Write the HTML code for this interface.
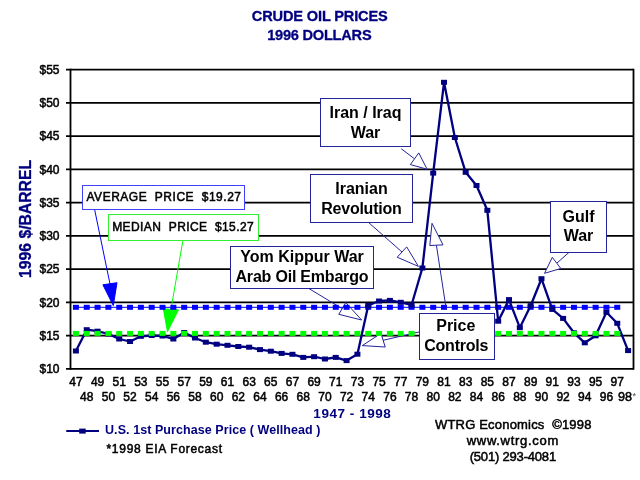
<!DOCTYPE html>
<html><head><meta charset="utf-8"><title>Crude Oil Prices 1947-1998</title>
<style>
html,body{margin:0;padding:0;background:#fff;}
body{width:640px;height:480px;position:relative;overflow:hidden;font-family:"Liberation Sans", Arial, sans-serif;}
svg text{font-family:"Liberation Sans", Arial, sans-serif;}
</style></head><body>
<svg width="640" height="480" viewBox="0 0 640 480" style="position:absolute;left:0;top:0">
<rect x="0" y="0" width="640" height="480" fill="#fff"/>
<line x1="66.00" y1="69.70" x2="633.50" y2="69.70" stroke="#000" stroke-width="1.8"/>
<line x1="66.00" y1="102.94" x2="633.50" y2="102.94" stroke="#000" stroke-width="1.8"/>
<line x1="66.00" y1="136.19" x2="633.50" y2="136.19" stroke="#000" stroke-width="1.8"/>
<line x1="66.00" y1="169.43" x2="633.50" y2="169.43" stroke="#000" stroke-width="1.8"/>
<line x1="66.00" y1="202.68" x2="633.50" y2="202.68" stroke="#000" stroke-width="1.8"/>
<line x1="66.00" y1="235.92" x2="633.50" y2="235.92" stroke="#000" stroke-width="1.8"/>
<line x1="66.00" y1="269.17" x2="633.50" y2="269.17" stroke="#000" stroke-width="1.8"/>
<line x1="66.00" y1="302.41" x2="633.50" y2="302.41" stroke="#000" stroke-width="1.8"/>
<line x1="66.00" y1="335.66" x2="633.50" y2="335.66" stroke="#000" stroke-width="1.8"/>
<line x1="66.00" y1="368.90" x2="633.50" y2="368.90" stroke="#000" stroke-width="1.8"/>
<line x1="70.50" y1="68.80" x2="70.50" y2="369.80" stroke="#000" stroke-width="1.8"/>
<line x1="633.50" y1="68.80" x2="633.50" y2="369.80" stroke="#000" stroke-width="1.8"/>
<text x="59.5" y="73.90" text-anchor="end" font-size="12" fill="#000" stroke="#000" stroke-width="0.5" paint-order="stroke">$55</text>
<text x="59.5" y="107.14" text-anchor="end" font-size="12" fill="#000" stroke="#000" stroke-width="0.5" paint-order="stroke">$50</text>
<text x="59.5" y="140.39" text-anchor="end" font-size="12" fill="#000" stroke="#000" stroke-width="0.5" paint-order="stroke">$45</text>
<text x="59.5" y="173.63" text-anchor="end" font-size="12" fill="#000" stroke="#000" stroke-width="0.5" paint-order="stroke">$40</text>
<text x="59.5" y="206.88" text-anchor="end" font-size="12" fill="#000" stroke="#000" stroke-width="0.5" paint-order="stroke">$35</text>
<text x="59.5" y="240.12" text-anchor="end" font-size="12" fill="#000" stroke="#000" stroke-width="0.5" paint-order="stroke">$30</text>
<text x="59.5" y="273.37" text-anchor="end" font-size="12" fill="#000" stroke="#000" stroke-width="0.5" paint-order="stroke">$25</text>
<text x="59.5" y="306.61" text-anchor="end" font-size="12" fill="#000" stroke="#000" stroke-width="0.5" paint-order="stroke">$20</text>
<text x="59.5" y="339.86" text-anchor="end" font-size="12" fill="#000" stroke="#000" stroke-width="0.5" paint-order="stroke">$15</text>
<text x="59.5" y="373.10" text-anchor="end" font-size="12" fill="#000" stroke="#000" stroke-width="0.5" paint-order="stroke">$10</text>
<text x="75.91" y="385.5" text-anchor="middle" font-size="12" fill="#000" stroke="#000" stroke-width="0.5" paint-order="stroke">47</text>
<text x="86.74" y="401.2" text-anchor="middle" font-size="12" fill="#000" stroke="#000" stroke-width="0.5" paint-order="stroke">48</text>
<text x="97.57" y="385.5" text-anchor="middle" font-size="12" fill="#000" stroke="#000" stroke-width="0.5" paint-order="stroke">49</text>
<text x="108.39" y="401.2" text-anchor="middle" font-size="12" fill="#000" stroke="#000" stroke-width="0.5" paint-order="stroke">50</text>
<text x="119.22" y="385.5" text-anchor="middle" font-size="12" fill="#000" stroke="#000" stroke-width="0.5" paint-order="stroke">51</text>
<text x="130.05" y="401.2" text-anchor="middle" font-size="12" fill="#000" stroke="#000" stroke-width="0.5" paint-order="stroke">52</text>
<text x="140.88" y="385.5" text-anchor="middle" font-size="12" fill="#000" stroke="#000" stroke-width="0.5" paint-order="stroke">53</text>
<text x="151.70" y="401.2" text-anchor="middle" font-size="12" fill="#000" stroke="#000" stroke-width="0.5" paint-order="stroke">54</text>
<text x="162.53" y="385.5" text-anchor="middle" font-size="12" fill="#000" stroke="#000" stroke-width="0.5" paint-order="stroke">55</text>
<text x="173.36" y="401.2" text-anchor="middle" font-size="12" fill="#000" stroke="#000" stroke-width="0.5" paint-order="stroke">56</text>
<text x="184.18" y="385.5" text-anchor="middle" font-size="12" fill="#000" stroke="#000" stroke-width="0.5" paint-order="stroke">57</text>
<text x="195.01" y="401.2" text-anchor="middle" font-size="12" fill="#000" stroke="#000" stroke-width="0.5" paint-order="stroke">58</text>
<text x="205.84" y="385.5" text-anchor="middle" font-size="12" fill="#000" stroke="#000" stroke-width="0.5" paint-order="stroke">59</text>
<text x="216.66" y="401.2" text-anchor="middle" font-size="12" fill="#000" stroke="#000" stroke-width="0.5" paint-order="stroke">60</text>
<text x="227.49" y="385.5" text-anchor="middle" font-size="12" fill="#000" stroke="#000" stroke-width="0.5" paint-order="stroke">61</text>
<text x="238.32" y="401.2" text-anchor="middle" font-size="12" fill="#000" stroke="#000" stroke-width="0.5" paint-order="stroke">62</text>
<text x="249.14" y="385.5" text-anchor="middle" font-size="12" fill="#000" stroke="#000" stroke-width="0.5" paint-order="stroke">63</text>
<text x="259.97" y="401.2" text-anchor="middle" font-size="12" fill="#000" stroke="#000" stroke-width="0.5" paint-order="stroke">64</text>
<text x="270.80" y="385.5" text-anchor="middle" font-size="12" fill="#000" stroke="#000" stroke-width="0.5" paint-order="stroke">65</text>
<text x="281.62" y="401.2" text-anchor="middle" font-size="12" fill="#000" stroke="#000" stroke-width="0.5" paint-order="stroke">66</text>
<text x="292.45" y="385.5" text-anchor="middle" font-size="12" fill="#000" stroke="#000" stroke-width="0.5" paint-order="stroke">67</text>
<text x="303.28" y="401.2" text-anchor="middle" font-size="12" fill="#000" stroke="#000" stroke-width="0.5" paint-order="stroke">68</text>
<text x="314.11" y="385.5" text-anchor="middle" font-size="12" fill="#000" stroke="#000" stroke-width="0.5" paint-order="stroke">69</text>
<text x="324.93" y="401.2" text-anchor="middle" font-size="12" fill="#000" stroke="#000" stroke-width="0.5" paint-order="stroke">70</text>
<text x="335.76" y="385.5" text-anchor="middle" font-size="12" fill="#000" stroke="#000" stroke-width="0.5" paint-order="stroke">71</text>
<text x="346.59" y="401.2" text-anchor="middle" font-size="12" fill="#000" stroke="#000" stroke-width="0.5" paint-order="stroke">72</text>
<text x="357.41" y="385.5" text-anchor="middle" font-size="12" fill="#000" stroke="#000" stroke-width="0.5" paint-order="stroke">73</text>
<text x="368.24" y="401.2" text-anchor="middle" font-size="12" fill="#000" stroke="#000" stroke-width="0.5" paint-order="stroke">74</text>
<text x="379.07" y="385.5" text-anchor="middle" font-size="12" fill="#000" stroke="#000" stroke-width="0.5" paint-order="stroke">75</text>
<text x="389.89" y="401.2" text-anchor="middle" font-size="12" fill="#000" stroke="#000" stroke-width="0.5" paint-order="stroke">76</text>
<text x="400.72" y="385.5" text-anchor="middle" font-size="12" fill="#000" stroke="#000" stroke-width="0.5" paint-order="stroke">77</text>
<text x="411.55" y="401.2" text-anchor="middle" font-size="12" fill="#000" stroke="#000" stroke-width="0.5" paint-order="stroke">78</text>
<text x="422.38" y="385.5" text-anchor="middle" font-size="12" fill="#000" stroke="#000" stroke-width="0.5" paint-order="stroke">79</text>
<text x="433.20" y="401.2" text-anchor="middle" font-size="12" fill="#000" stroke="#000" stroke-width="0.5" paint-order="stroke">80</text>
<text x="444.03" y="385.5" text-anchor="middle" font-size="12" fill="#000" stroke="#000" stroke-width="0.5" paint-order="stroke">81</text>
<text x="454.86" y="401.2" text-anchor="middle" font-size="12" fill="#000" stroke="#000" stroke-width="0.5" paint-order="stroke">82</text>
<text x="465.68" y="385.5" text-anchor="middle" font-size="12" fill="#000" stroke="#000" stroke-width="0.5" paint-order="stroke">83</text>
<text x="476.51" y="401.2" text-anchor="middle" font-size="12" fill="#000" stroke="#000" stroke-width="0.5" paint-order="stroke">84</text>
<text x="487.34" y="385.5" text-anchor="middle" font-size="12" fill="#000" stroke="#000" stroke-width="0.5" paint-order="stroke">85</text>
<text x="498.16" y="401.2" text-anchor="middle" font-size="12" fill="#000" stroke="#000" stroke-width="0.5" paint-order="stroke">86</text>
<text x="508.99" y="385.5" text-anchor="middle" font-size="12" fill="#000" stroke="#000" stroke-width="0.5" paint-order="stroke">87</text>
<text x="519.82" y="401.2" text-anchor="middle" font-size="12" fill="#000" stroke="#000" stroke-width="0.5" paint-order="stroke">88</text>
<text x="530.64" y="385.5" text-anchor="middle" font-size="12" fill="#000" stroke="#000" stroke-width="0.5" paint-order="stroke">89</text>
<text x="541.47" y="401.2" text-anchor="middle" font-size="12" fill="#000" stroke="#000" stroke-width="0.5" paint-order="stroke">90</text>
<text x="552.30" y="385.5" text-anchor="middle" font-size="12" fill="#000" stroke="#000" stroke-width="0.5" paint-order="stroke">91</text>
<text x="563.12" y="401.2" text-anchor="middle" font-size="12" fill="#000" stroke="#000" stroke-width="0.5" paint-order="stroke">92</text>
<text x="573.95" y="385.5" text-anchor="middle" font-size="12" fill="#000" stroke="#000" stroke-width="0.5" paint-order="stroke">93</text>
<text x="584.78" y="401.2" text-anchor="middle" font-size="12" fill="#000" stroke="#000" stroke-width="0.5" paint-order="stroke">94</text>
<text x="595.61" y="385.5" text-anchor="middle" font-size="12" fill="#000" stroke="#000" stroke-width="0.5" paint-order="stroke">95</text>
<text x="606.43" y="401.2" text-anchor="middle" font-size="12" fill="#000" stroke="#000" stroke-width="0.5" paint-order="stroke">96</text>
<text x="617.26" y="385.5" text-anchor="middle" font-size="12" fill="#000" stroke="#000" stroke-width="0.5" paint-order="stroke">97</text>
<text x="617.9" y="401.2" font-size="12.6" fill="#000" stroke="#000" stroke-width="0.5" paint-order="stroke">98</text>
<text x="632.4" y="398.59999999999997" font-size="9" fill="#444">*</text>
<polyline points="401.25,148.75 414.5,158.8" fill="none" stroke="#24249a" stroke-width="1"/><polygon points="418.75,152.9 410.4,164.6 427.1,169.2" fill="#fff" stroke="#24249a" stroke-width="1"/>
<polyline points="368,222 402,252" fill="none" stroke="#24249a" stroke-width="1"/><polygon points="406.7,246.9 397.2,257.2 418.4,266.4" fill="#fff" stroke="#24249a" stroke-width="1"/>
<polyline points="308,288 342,308.5" fill="none" stroke="#24249a" stroke-width="1"/><polygon points="345.8,302.6 338.75,314.3 361.6,320" fill="#fff" stroke="#24249a" stroke-width="1"/>
<polyline points="419,332 383,340.3" fill="none" stroke="#24249a" stroke-width="1"/><polygon points="381,333.4 385.2,347 362.25,345.6" fill="#fff" stroke="#24249a" stroke-width="1"/>
<polyline points="569.4,252 557,263" fill="none" stroke="#24249a" stroke-width="1"/><polygon points="552.3,257.3 560.8,268.5 544.5,273.3" fill="#fff" stroke="#24249a" stroke-width="1"/>
<polyline points="94.5,209 110,284" fill="none" stroke="#0000ff" stroke-width="1"/><polygon points="102.9,284.8 117,282.7 113.3,305.6" fill="#0000ff" stroke="#0000ff" stroke-width="1"/>
<polyline points="183,240 171,309" fill="none" stroke="#00ff00" stroke-width="1"/><polygon points="163.3,308.75 178.5,309.8 167.5,331.7" fill="#00ff00" stroke="#00ff00" stroke-width="1"/>
<line x1="75.91" y1="307.3" x2="617.26" y2="307.3" stroke="#0000ff" stroke-width="1"/>
<rect x="72.91" y="304.80" width="6" height="5" fill="#0000ff"/>
<rect x="83.74" y="304.80" width="6" height="5" fill="#0000ff"/>
<rect x="94.57" y="304.80" width="6" height="5" fill="#0000ff"/>
<rect x="105.39" y="304.80" width="6" height="5" fill="#0000ff"/>
<rect x="116.22" y="304.80" width="6" height="5" fill="#0000ff"/>
<rect x="127.05" y="304.80" width="6" height="5" fill="#0000ff"/>
<rect x="137.88" y="304.80" width="6" height="5" fill="#0000ff"/>
<rect x="148.70" y="304.80" width="6" height="5" fill="#0000ff"/>
<rect x="159.53" y="304.80" width="6" height="5" fill="#0000ff"/>
<rect x="170.36" y="304.80" width="6" height="5" fill="#0000ff"/>
<rect x="181.18" y="304.80" width="6" height="5" fill="#0000ff"/>
<rect x="192.01" y="304.80" width="6" height="5" fill="#0000ff"/>
<rect x="202.84" y="304.80" width="6" height="5" fill="#0000ff"/>
<rect x="213.66" y="304.80" width="6" height="5" fill="#0000ff"/>
<rect x="224.49" y="304.80" width="6" height="5" fill="#0000ff"/>
<rect x="235.32" y="304.80" width="6" height="5" fill="#0000ff"/>
<rect x="246.14" y="304.80" width="6" height="5" fill="#0000ff"/>
<rect x="256.97" y="304.80" width="6" height="5" fill="#0000ff"/>
<rect x="267.80" y="304.80" width="6" height="5" fill="#0000ff"/>
<rect x="278.62" y="304.80" width="6" height="5" fill="#0000ff"/>
<rect x="289.45" y="304.80" width="6" height="5" fill="#0000ff"/>
<rect x="300.28" y="304.80" width="6" height="5" fill="#0000ff"/>
<rect x="311.11" y="304.80" width="6" height="5" fill="#0000ff"/>
<rect x="321.93" y="304.80" width="6" height="5" fill="#0000ff"/>
<rect x="332.76" y="304.80" width="6" height="5" fill="#0000ff"/>
<rect x="343.59" y="304.80" width="6" height="5" fill="#0000ff"/>
<rect x="354.41" y="304.80" width="6" height="5" fill="#0000ff"/>
<rect x="365.24" y="304.80" width="6" height="5" fill="#0000ff"/>
<rect x="376.07" y="304.80" width="6" height="5" fill="#0000ff"/>
<rect x="386.89" y="304.80" width="6" height="5" fill="#0000ff"/>
<rect x="397.72" y="304.80" width="6" height="5" fill="#0000ff"/>
<rect x="408.55" y="304.80" width="6" height="5" fill="#0000ff"/>
<rect x="419.38" y="304.80" width="6" height="5" fill="#0000ff"/>
<rect x="430.20" y="304.80" width="6" height="5" fill="#0000ff"/>
<rect x="441.03" y="304.80" width="6" height="5" fill="#0000ff"/>
<rect x="451.86" y="304.80" width="6" height="5" fill="#0000ff"/>
<rect x="462.68" y="304.80" width="6" height="5" fill="#0000ff"/>
<rect x="473.51" y="304.80" width="6" height="5" fill="#0000ff"/>
<rect x="484.34" y="304.80" width="6" height="5" fill="#0000ff"/>
<rect x="495.16" y="304.80" width="6" height="5" fill="#0000ff"/>
<rect x="505.99" y="304.80" width="6" height="5" fill="#0000ff"/>
<rect x="516.82" y="304.80" width="6" height="5" fill="#0000ff"/>
<rect x="527.64" y="304.80" width="6" height="5" fill="#0000ff"/>
<rect x="538.47" y="304.80" width="6" height="5" fill="#0000ff"/>
<rect x="549.30" y="304.80" width="6" height="5" fill="#0000ff"/>
<rect x="560.12" y="304.80" width="6" height="5" fill="#0000ff"/>
<rect x="570.95" y="304.80" width="6" height="5" fill="#0000ff"/>
<rect x="581.78" y="304.80" width="6" height="5" fill="#0000ff"/>
<rect x="592.61" y="304.80" width="6" height="5" fill="#0000ff"/>
<rect x="603.43" y="304.80" width="6" height="5" fill="#0000ff"/>
<rect x="614.26" y="304.80" width="6" height="5" fill="#0000ff"/>
<polyline points="75.91,351.00 86.74,329.70 97.57,331.20 108.39,334.00 119.22,339.00 130.05,341.50 140.88,336.30 151.70,335.50 162.53,336.00 173.36,339.00 184.18,332.50 195.01,338.00 205.84,342.20 216.66,344.20 227.49,345.30 238.32,346.50 249.14,347.20 259.97,349.60 270.80,351.20 281.62,353.40 292.45,354.30 303.28,357.40 314.11,356.70 324.93,359.00 335.76,357.40 346.59,360.60 357.41,354.20 368.24,305.50 379.07,301.00 389.89,300.40 400.72,302.30 411.55,305.00 422.38,268.00 433.20,173.10 444.03,82.30 454.86,137.50 465.68,172.30 476.51,185.50 487.34,210.30 498.16,321.20 508.99,299.60 519.82,327.70 530.64,305.70 541.47,278.70 552.30,309.40 563.12,318.40 573.95,332.80 584.78,342.80 595.61,335.80 606.43,312.30 617.26,323.30 628.09,350.60" fill="none" stroke="#000080" stroke-width="2.3" stroke-linejoin="round"/>
<rect x="72.91" y="348.50" width="6" height="5" fill="#000080"/>
<rect x="83.74" y="327.20" width="6" height="5" fill="#000080"/>
<rect x="94.57" y="328.70" width="6" height="5" fill="#000080"/>
<rect x="105.39" y="331.50" width="6" height="5" fill="#000080"/>
<rect x="116.22" y="336.50" width="6" height="5" fill="#000080"/>
<rect x="127.05" y="339.00" width="6" height="5" fill="#000080"/>
<rect x="137.88" y="333.80" width="6" height="5" fill="#000080"/>
<rect x="148.70" y="333.00" width="6" height="5" fill="#000080"/>
<rect x="159.53" y="333.50" width="6" height="5" fill="#000080"/>
<rect x="170.36" y="336.50" width="6" height="5" fill="#000080"/>
<rect x="181.18" y="330.00" width="6" height="5" fill="#000080"/>
<rect x="192.01" y="335.50" width="6" height="5" fill="#000080"/>
<rect x="202.84" y="339.70" width="6" height="5" fill="#000080"/>
<rect x="213.66" y="341.70" width="6" height="5" fill="#000080"/>
<rect x="224.49" y="342.80" width="6" height="5" fill="#000080"/>
<rect x="235.32" y="344.00" width="6" height="5" fill="#000080"/>
<rect x="246.14" y="344.70" width="6" height="5" fill="#000080"/>
<rect x="256.97" y="347.10" width="6" height="5" fill="#000080"/>
<rect x="267.80" y="348.70" width="6" height="5" fill="#000080"/>
<rect x="278.62" y="350.90" width="6" height="5" fill="#000080"/>
<rect x="289.45" y="351.80" width="6" height="5" fill="#000080"/>
<rect x="300.28" y="354.90" width="6" height="5" fill="#000080"/>
<rect x="311.11" y="354.20" width="6" height="5" fill="#000080"/>
<rect x="321.93" y="356.50" width="6" height="5" fill="#000080"/>
<rect x="332.76" y="354.90" width="6" height="5" fill="#000080"/>
<rect x="343.59" y="358.10" width="6" height="5" fill="#000080"/>
<rect x="354.41" y="351.70" width="6" height="5" fill="#000080"/>
<rect x="365.24" y="303.00" width="6" height="5" fill="#000080"/>
<rect x="376.07" y="298.50" width="6" height="5" fill="#000080"/>
<rect x="386.89" y="297.90" width="6" height="5" fill="#000080"/>
<rect x="397.72" y="299.80" width="6" height="5" fill="#000080"/>
<rect x="408.55" y="302.50" width="6" height="5" fill="#000080"/>
<rect x="419.38" y="265.50" width="6" height="5" fill="#000080"/>
<rect x="430.20" y="170.60" width="6" height="5" fill="#000080"/>
<rect x="441.03" y="79.80" width="6" height="5" fill="#000080"/>
<rect x="451.86" y="135.00" width="6" height="5" fill="#000080"/>
<rect x="462.68" y="169.80" width="6" height="5" fill="#000080"/>
<rect x="473.51" y="183.00" width="6" height="5" fill="#000080"/>
<rect x="484.34" y="207.80" width="6" height="5" fill="#000080"/>
<rect x="495.16" y="318.70" width="6" height="5" fill="#000080"/>
<rect x="505.99" y="297.10" width="6" height="5" fill="#000080"/>
<rect x="516.82" y="325.20" width="6" height="5" fill="#000080"/>
<rect x="527.64" y="303.20" width="6" height="5" fill="#000080"/>
<rect x="538.47" y="276.20" width="6" height="5" fill="#000080"/>
<rect x="549.30" y="306.90" width="6" height="5" fill="#000080"/>
<rect x="560.12" y="315.90" width="6" height="5" fill="#000080"/>
<rect x="570.95" y="330.30" width="6" height="5" fill="#000080"/>
<rect x="581.78" y="340.30" width="6" height="5" fill="#000080"/>
<rect x="592.61" y="333.30" width="6" height="5" fill="#000080"/>
<rect x="603.43" y="309.80" width="6" height="5" fill="#000080"/>
<rect x="614.26" y="320.80" width="6" height="5" fill="#000080"/>
<rect x="625.09" y="348.10" width="6" height="5" fill="#000080"/>
<rect x="72.91" y="330.90" width="6" height="5" fill="#00ff00"/>
<rect x="83.74" y="330.90" width="6" height="5" fill="#00ff00"/>
<rect x="94.57" y="330.90" width="6" height="5" fill="#00ff00"/>
<rect x="105.39" y="330.90" width="6" height="5" fill="#00ff00"/>
<rect x="116.22" y="330.90" width="6" height="5" fill="#00ff00"/>
<rect x="127.05" y="330.90" width="6" height="5" fill="#00ff00"/>
<rect x="137.88" y="330.90" width="6" height="5" fill="#00ff00"/>
<rect x="148.70" y="330.90" width="6" height="5" fill="#00ff00"/>
<rect x="159.53" y="330.90" width="6" height="5" fill="#00ff00"/>
<rect x="170.36" y="330.90" width="6" height="5" fill="#00ff00"/>
<rect x="181.18" y="330.90" width="6" height="5" fill="#00ff00"/>
<rect x="192.01" y="330.90" width="6" height="5" fill="#00ff00"/>
<rect x="202.84" y="330.90" width="6" height="5" fill="#00ff00"/>
<rect x="213.66" y="330.90" width="6" height="5" fill="#00ff00"/>
<rect x="224.49" y="330.90" width="6" height="5" fill="#00ff00"/>
<rect x="235.32" y="330.90" width="6" height="5" fill="#00ff00"/>
<rect x="246.14" y="330.90" width="6" height="5" fill="#00ff00"/>
<rect x="256.97" y="330.90" width="6" height="5" fill="#00ff00"/>
<rect x="267.80" y="330.90" width="6" height="5" fill="#00ff00"/>
<rect x="278.62" y="330.90" width="6" height="5" fill="#00ff00"/>
<rect x="289.45" y="330.90" width="6" height="5" fill="#00ff00"/>
<rect x="300.28" y="330.90" width="6" height="5" fill="#00ff00"/>
<rect x="311.11" y="330.90" width="6" height="5" fill="#00ff00"/>
<rect x="321.93" y="330.90" width="6" height="5" fill="#00ff00"/>
<rect x="332.76" y="330.90" width="6" height="5" fill="#00ff00"/>
<rect x="343.59" y="330.90" width="6" height="5" fill="#00ff00"/>
<rect x="354.41" y="330.90" width="6" height="5" fill="#00ff00"/>
<rect x="365.24" y="330.90" width="6" height="5" fill="#00ff00"/>
<rect x="376.07" y="330.90" width="6" height="5" fill="#00ff00"/>
<rect x="386.89" y="330.90" width="6" height="5" fill="#00ff00"/>
<rect x="397.72" y="330.90" width="6" height="5" fill="#00ff00"/>
<rect x="408.55" y="330.90" width="6" height="5" fill="#00ff00"/>
<rect x="419.38" y="330.90" width="6" height="5" fill="#00ff00"/>
<rect x="430.20" y="330.90" width="6" height="5" fill="#00ff00"/>
<rect x="441.03" y="330.90" width="6" height="5" fill="#00ff00"/>
<rect x="451.86" y="330.90" width="6" height="5" fill="#00ff00"/>
<rect x="462.68" y="330.90" width="6" height="5" fill="#00ff00"/>
<rect x="473.51" y="330.90" width="6" height="5" fill="#00ff00"/>
<rect x="484.34" y="330.90" width="6" height="5" fill="#00ff00"/>
<rect x="495.16" y="330.90" width="6" height="5" fill="#00ff00"/>
<rect x="505.99" y="330.90" width="6" height="5" fill="#00ff00"/>
<rect x="516.82" y="330.90" width="6" height="5" fill="#00ff00"/>
<rect x="527.64" y="330.90" width="6" height="5" fill="#00ff00"/>
<rect x="538.47" y="330.90" width="6" height="5" fill="#00ff00"/>
<rect x="549.30" y="330.90" width="6" height="5" fill="#00ff00"/>
<rect x="560.12" y="330.90" width="6" height="5" fill="#00ff00"/>
<rect x="570.95" y="330.90" width="6" height="5" fill="#00ff00"/>
<rect x="581.78" y="330.90" width="6" height="5" fill="#00ff00"/>
<rect x="592.61" y="330.90" width="6" height="5" fill="#00ff00"/>
<rect x="603.43" y="330.90" width="6" height="5" fill="#00ff00"/>
<rect x="614.26" y="330.90" width="6" height="5" fill="#00ff00"/>
<polyline points="446.3,309.6 436.4,245.2" fill="none" stroke="#24249a" stroke-width="1"/><polygon points="429.8,245.5 443,244.9 432,223.3" fill="#fff" stroke="#24249a" stroke-width="1"/>
<rect x="320.5" y="98.5" width="90.00" height="48.00" fill="#fff" stroke="#24249a" stroke-width="1"/>
<rect x="310.5" y="174.5" width="102.00" height="48.00" fill="#fff" stroke="#24249a" stroke-width="1"/>
<rect x="230.5" y="246.5" width="143.00" height="42.00" fill="#fff" stroke="#24249a" stroke-width="1"/>
<rect x="419.5" y="313.5" width="75.00" height="46.00" fill="#fff" stroke="#24249a" stroke-width="1"/>
<rect x="550.5" y="201.5" width="56.00" height="51.00" fill="#fff" stroke="#24249a" stroke-width="1"/>
<rect x="82.5" y="185.5" width="162.00" height="24.00" fill="#fff" stroke="#4040ff" stroke-width="1"/>
<rect x="108.5" y="214.5" width="150.00" height="26.00" fill="#fff" stroke="#30f030" stroke-width="1"/>
<text x="365.5" y="118" text-anchor="middle" font-size="16" font-weight="bold" fill="#000">Iran / Iraq</text>
<text x="365.5" y="137.6" text-anchor="middle" font-size="16" font-weight="bold" fill="#000">War</text>
<text x="361.5" y="194" text-anchor="middle" font-size="16" font-weight="bold" fill="#000">Iranian</text>
<text x="361.5" y="213.6" text-anchor="middle" font-size="16" font-weight="bold" fill="#000" textLength="80.5" lengthAdjust="spacing">Revolution</text>
<text x="302" y="262" text-anchor="middle" font-size="16" font-weight="bold" fill="#000">Yom Kippur War</text>
<text x="302" y="281.8" text-anchor="middle" font-size="16" font-weight="bold" fill="#000" textLength="133" lengthAdjust="spacing">Arab Oil Embargo</text>
<text x="455.8" y="331" text-anchor="middle" font-size="16" font-weight="bold" fill="#000">Price</text>
<text x="456.3" y="351" text-anchor="middle" font-size="16" font-weight="bold" fill="#000" textLength="64" lengthAdjust="spacing">Controls</text>
<text x="578.5" y="222" text-anchor="middle" font-size="16" font-weight="bold" fill="#000">Gulf</text>
<text x="578.5" y="240.6" text-anchor="middle" font-size="16" font-weight="bold" fill="#000">War</text>
<text x="86.5" y="201.2" text-anchor="start" font-size="12" font-weight="normal" fill="#000" textLength="154.5" lengthAdjust="spacing" stroke="#000" stroke-width="0.5" paint-order="stroke" style="white-space:pre">AVERAGE  PRICE  $19.27</text>
<text x="112.2" y="230.6" text-anchor="start" font-size="12" font-weight="normal" fill="#000" textLength="141.5" lengthAdjust="spacing" stroke="#000" stroke-width="0.5" paint-order="stroke" style="white-space:pre">MEDIAN  PRICE  $15.27</text>
<text x="319.8" y="20.8" text-anchor="middle" font-size="14.6" font-weight="bold" fill="#000080" textLength="136" lengthAdjust="spacing" stroke="#000080" stroke-width="0.3" paint-order="stroke" style="white-space:pre">CRUDE OIL PRICES</text>
<text x="319.4" y="39.7" text-anchor="middle" font-size="14.6" font-weight="bold" fill="#000080" textLength="104.5" lengthAdjust="spacing" stroke="#000080" stroke-width="0.3" paint-order="stroke" style="white-space:pre">1996 DOLLARS</text>
<text transform="translate(31.2,218.9) rotate(-90)" text-anchor="middle" font-size="15.8" font-weight="bold" fill="#000080" stroke="#000080" stroke-width="0.3" paint-order="stroke" textLength="118" lengthAdjust="spacing">1996 $/BARREL</text>
<text x="352.1" y="418" text-anchor="middle" font-size="13.5" font-weight="bold" fill="#000080" textLength="77.5" lengthAdjust="spacing"  style="white-space:pre">1947 - 1998</text>
<line x1="66.25" y1="431.1" x2="99" y2="431.1" stroke="#000080" stroke-width="2"/>
<rect x="79.2" y="428.6" width="6.5" height="5" fill="#000080"/>
<text x="105" y="434.3" text-anchor="start" font-size="12.5" font-weight="bold" fill="#000080" textLength="215.5" lengthAdjust="spacing"  style="white-space:pre">U.S. 1st Purchase Price ( Wellhead )</text>
<text x="106.5" y="453.2" text-anchor="start" font-size="12" font-weight="normal" fill="#000" textLength="115.5" lengthAdjust="spacing" stroke="#000" stroke-width="0.5" paint-order="stroke" style="white-space:pre">*1998 EIA Forecast</text>
<text x="513.2" y="429.4" text-anchor="middle" font-size="13" font-weight="normal" fill="#000" textLength="156.5" lengthAdjust="spacing" stroke="#000" stroke-width="0.5" paint-order="stroke" style="white-space:pre">WTRG Economics  ©1998</text>
<text x="512.5" y="445.3" text-anchor="middle" font-size="13" font-weight="normal" fill="#000" textLength="91.5" lengthAdjust="spacing" stroke="#000" stroke-width="0.5" paint-order="stroke" style="white-space:pre">www.wtrg.com</text>
<text x="512.9" y="460.5" text-anchor="middle" font-size="13" font-weight="normal" fill="#000" textLength="86.5" lengthAdjust="spacing" stroke="#000" stroke-width="0.5" paint-order="stroke" style="white-space:pre">(501) 293-4081</text>
</svg>
</body></html>
